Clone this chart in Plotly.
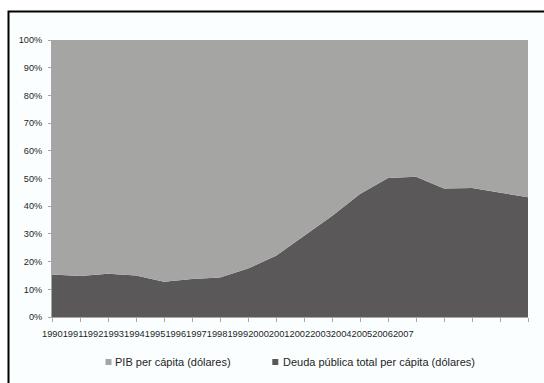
import plotly.graph_objects as go

# Categories and series (share of the combined total, in %)
years = [str(y) for y in range(1990, 2008)]
deuda_pct = [15.3, 14.8, 15.6, 15.0, 12.7, 13.7, 14.3, 17.5, 22.1, 29.2,
             36.5, 44.4, 50.2, 50.6, 46.4, 46.6, 44.9, 43.2]
pib_pct = [round(100 - v, 1) for v in deuda_pct]

name_pib = "PIB per cápita (dólares)"
name_deuda = "Deuda pública total per cápita (dólares)"
col_pib = "#a5a5a4"
col_deuda = "#5a5859"

W, H = 544, 383
ML, MR, MT, MB = 52, 16, 40, 66
PW, PH = W - ML - MR, H - MT - MB


def px_x(x):
    return (x - ML) / PW


def px_y(y):
    return (H - MB - y) / PH


fig = go.Figure()
fig.add_trace(go.Scatter(
    x=years, y=deuda_pct, name=name_deuda, mode="lines",
    stackgroup="one", groupnorm="percent",
    line=dict(width=0, color=col_deuda), fillcolor=col_deuda,
    showlegend=False, hoverinfo="skip"))
fig.add_trace(go.Scatter(
    x=years, y=pib_pct, name=name_pib, mode="lines",
    stackgroup="one",
    line=dict(width=0, color=col_pib), fillcolor=col_pib,
    showlegend=False, hoverinfo="skip"))

axis_grey = "#a6a6a6"
txt = "#1e1e1e"
font_main = "Liberation Sans, Arial, sans-serif"

fig.update_xaxes(
    type="category", range=[0, len(years) - 1],
    showgrid=False, zeroline=False,
    showline=True, linecolor=axis_grey, linewidth=1,
    ticks="outside", ticklen=4, tickcolor=axis_grey, tickwidth=1,
    tickmode="array", tickvals=years, showticklabels=False)
fig.update_yaxes(
    range=[0, 100], dtick=10, ticksuffix="%",
    showgrid=False, zeroline=False,
    showline=True, linecolor=axis_grey, linewidth=1,
    ticks="outside", ticklen=3, tickcolor=axis_grey, tickwidth=1,
    ticklabelstandoff=4,
    tickfont=dict(family=font_main, size=9.2, color=txt))

shapes = [
    # chart frame (runs off the right and bottom edges)
    dict(type="rect", xref="paper", yref="paper", layer="below",
         x0=px_x(8.5), x1=px_x(W + 20), y0=px_y(H + 20), y1=px_y(11.5),
         line=dict(color="#000000", width=2), fillcolor="#fbfefe"),
    # legend swatches
    dict(type="rect", xref="paper", yref="paper",
         x0=px_x(105.5), x1=px_x(111.5), y0=px_y(365), y1=px_y(359),
         line=dict(width=0), fillcolor=col_pib),
    dict(type="rect", xref="paper", yref="paper",
         x0=px_x(272.3), x1=px_x(278.3), y0=px_y(365), y1=px_y(359),
         line=dict(width=0), fillcolor=col_deuda),
]

annotations = [
    # category labels printed run-together under the axis
    dict(text="".join(years), xref="paper", yref="paper",
         x=px_x(228), y=px_y(334), xanchor="center", yanchor="middle",
         showarrow=False, font=dict(family=font_main, size=9.3, color=txt)),
    dict(text=name_pib, xref="paper", yref="paper",
         x=px_x(113), y=px_y(362), xanchor="left", yanchor="middle",
         showarrow=False, font=dict(family=font_main, size=11, color=txt)),
    dict(text=name_deuda, xref="paper", yref="paper",
         x=px_x(280.5), y=px_y(362), xanchor="left", yanchor="middle",
         showarrow=False, font=dict(family=font_main, size=11, color=txt)),
]

fig.update_layout(
    width=W, height=H,
    margin=dict(l=ML, r=MR, t=MT, b=MB, pad=0),
    paper_bgcolor="white", plot_bgcolor="white",
    showlegend=False,
    shapes=shapes, annotations=annotations)

fig.write_html("out.html")
